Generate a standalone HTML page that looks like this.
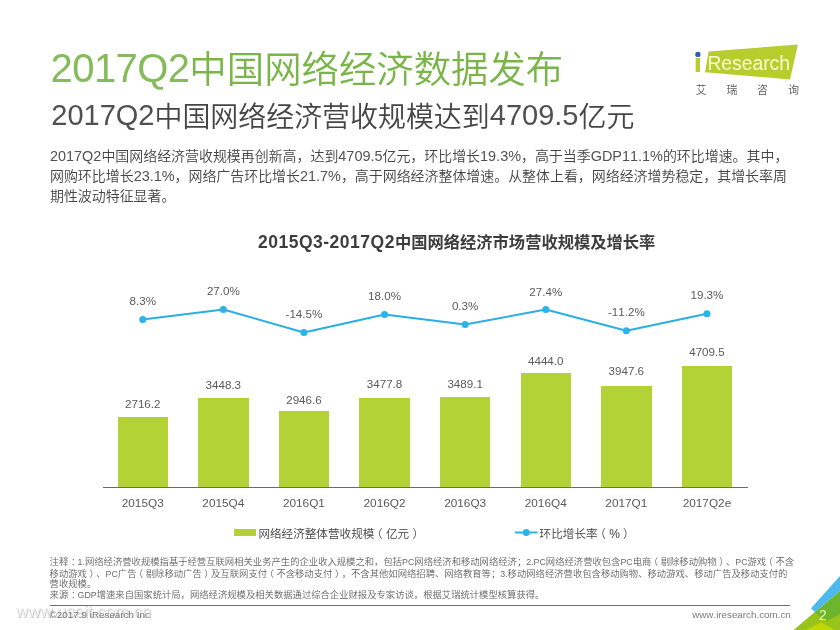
<!DOCTYPE html>
<html lang="zh-CN">
<head>
<meta charset="utf-8">
<title>2017Q2中国网络经济数据发布</title>
<style>
html,body{margin:0;padding:0;background:#fff;}
body{width:840px;height:630px;position:relative;overflow:hidden;
  font-family:"Liberation Sans","Noto Sans CJK SC",sans-serif;color:#404040;
  text-spacing-trim:space-all;font-kerning:none;
  -webkit-font-smoothing:antialiased;will-change:transform;}
.abs{position:absolute;white-space:nowrap;}
.l{font-size:1.04em;line-height:0;}
.po{position:relative;left:-0.28em;}
.pc{position:relative;left:0.28em;}
.co{position:relative;left:0.3em;}
#title{left:50.6px;top:43px;font-size:37.4px;line-height:54px;color:#79b548;font-weight:350;}
#title .l{font-size:40px;letter-spacing:-0.6px;position:relative;top:-1.1px;color:#85bb58;}
#subtitle{left:51.3px;top:97.5px;font-size:27.95px;line-height:40px;color:#454545;font-weight:350;}
#subtitle .l{font-size:29px;position:relative;top:-1.5px;color:#505050;}
.bd{left:50px;font-size:13.95px;line-height:20px;color:#444;font-weight:350;}
.bd .l{font-size:14.45px;color:#525252;}
#ctitle{left:258px;top:231px;font-size:16.3px;line-height:22px;font-weight:bold;color:#3d3d3d;}
#ctitle .l{font-size:17.5px;letter-spacing:0.5px;}
.bar{position:absolute;background:#b2d235;width:50.4px;}
.vl{position:absolute;width:80px;text-align:center;font-size:11.6px;line-height:14px;height:14px;color:#5a5a5a;white-space:nowrap;}
.xl{font-size:11.8px;}
#axis{position:absolute;left:102.5px;top:487px;width:645px;height:1px;background:#6a6a6a;}
.lg{font-size:11.6px;line-height:16px;color:#404040;font-weight:350;}
.lg .l{font-size:12px;}
.note{left:49.6px;font-size:9.33px;line-height:12px;color:#636363;font-weight:350;}
.note .l{font-size:8.8px;color:#6a6a6a;}
#fline{position:absolute;left:50px;top:605px;width:740px;height:1px;background:#707070;}
#wm{left:16px;top:600.5px;font-size:16.8px;line-height:22px;color:#efefef;letter-spacing:0;text-shadow:0.8px 0.8px 0.5px #c2c2c2,-0.7px -0.7px 0 #fff;}
#copy{left:49.6px;top:609px;font-size:9.85px;line-height:12px;color:#757575;}
#url{left:692.2px;top:608px;font-size:9.8px;line-height:14px;color:#7a7a7a;}
#pn{left:812.8px;top:607.2px;width:20px;text-align:center;font-size:14px;line-height:16px;color:#eef5b0;}
</style>
</head>
<body>
<div id="title" class="abs"><span class="l">2017Q2</span>中国网络经济数据发布</div>
<div id="subtitle" class="abs"><span class="l">2017Q2</span>中国网络经济营收规模达到<span class="l">4709.5</span>亿元</div>
<div class="abs bd" style="top:145.7px"><span class="l">2017Q2</span>中国网络经济营收规模再创新高，达到<span class="l">4709.5</span>亿元，环比增长<span class="l">19.3%</span>，高于当季<span class="l">GDP11.1%</span>的环比增速。其中，</div>
<div class="abs bd" style="top:165.7px">网购环比增长<span class="l">23.1%</span>，网络广告环比增长<span class="l">21.7%</span>，高于网络经济整体增速。从整体上看，网络经济增势稳定，其增长率周</div>
<div class="abs bd" style="top:185.9px">期性波动特征显著。</div>

<!-- logo -->
<svg class="abs" style="left:690px;top:40px" width="120" height="70" viewBox="690 40 120 70">
  <polygon points="708.6,51.6 797.9,44.4 790,79.4 705,72.3" fill="#b5cd2d"/>
  <text x="693.5" y="71.7" font-family="'Liberation Sans',sans-serif" font-size="25" font-weight="bold" fill="#b5cd2d" textLength="8.7" lengthAdjust="spacingAndGlyphs">i</text>
  <circle cx="697.9" cy="54.4" r="2.6" fill="#2f5f9e"/>
  <text x="707.4" y="69.8" font-family="'Liberation Sans',sans-serif" font-size="20" fill="#f9fcd0" textLength="82.6" lengthAdjust="spacingAndGlyphs">Research</text>
  <g font-family="'Noto Sans CJK SC',sans-serif" font-size="10.8" fill="#5c5c5c" font-weight="350">
   <text x="695.8" y="93.6">艾</text><text x="726.4" y="93.6">瑞</text><text x="757.1" y="93.6">咨</text><text x="788.2" y="93.6">询</text>
  </g>
</svg>

<div id="ctitle" class="abs"><span class="l">2015Q3-2017Q2</span>中国网络经济市场营收规模及增长率</div>

<div class="bar" style="left:117.55px;top:417.00px;height:70.00px"></div>
<div class="bar" style="left:198.15px;top:398.25px;height:88.75px"></div>
<div class="bar" style="left:278.75px;top:411.00px;height:76.00px"></div>
<div class="bar" style="left:359.35px;top:397.50px;height:89.50px"></div>
<div class="bar" style="left:439.95px;top:397.00px;height:90.00px"></div>
<div class="bar" style="left:520.55px;top:372.50px;height:114.50px"></div>
<div class="bar" style="left:601.15px;top:385.50px;height:101.50px"></div>
<div class="bar" style="left:681.75px;top:365.75px;height:121.25px"></div>
<div class="vl" style="left:102.75px;top:397.35px">2716.2</div>
<div class="vl" style="left:183.35px;top:378.35px">3448.3</div>
<div class="vl" style="left:263.95px;top:392.60px">2946.6</div>
<div class="vl" style="left:344.55px;top:377.10px">3477.8</div>
<div class="vl" style="left:425.15px;top:376.60px">3489.1</div>
<div class="vl" style="left:505.75px;top:354.10px">4444.0</div>
<div class="vl" style="left:586.35px;top:364.10px">3947.6</div>
<div class="vl" style="left:666.95px;top:345.35px">4709.5</div>
<div class="vl xl" style="left:102.75px;top:495.70px">2015Q3</div>
<div class="vl xl" style="left:183.35px;top:495.70px">2015Q4</div>
<div class="vl xl" style="left:263.95px;top:495.70px">2016Q1</div>
<div class="vl xl" style="left:344.55px;top:495.70px">2016Q2</div>
<div class="vl xl" style="left:425.15px;top:495.70px">2016Q3</div>
<div class="vl xl" style="left:505.75px;top:495.70px">2016Q4</div>
<div class="vl xl" style="left:586.35px;top:495.70px">2017Q1</div>
<div class="vl xl" style="left:666.95px;top:495.70px">2017Q2e</div>
<div class="vl" style="left:102.75px;top:294.10px">8.3%</div>
<div class="vl" style="left:183.35px;top:284.10px">27.0%</div>
<div class="vl" style="left:263.95px;top:307.10px">-14.5%</div>
<div class="vl" style="left:344.55px;top:289.10px">18.0%</div>
<div class="vl" style="left:425.15px;top:299.10px">0.3%</div>
<div class="vl" style="left:505.75px;top:284.60px">27.4%</div>
<div class="vl" style="left:586.35px;top:305.35px">-11.2%</div>
<div class="vl" style="left:666.95px;top:288.35px">19.3%</div>
<svg class="abs" style="left:0;top:280px" width="840" height="80" viewBox="0 280 840 80"><polyline points="142.75,319.50 223.35,309.50 303.95,332.50 384.55,314.50 465.15,324.50 545.75,309.50 626.35,330.75 706.95,313.75" fill="none" stroke="#2baee3" stroke-width="2" stroke-linejoin="round"/><g fill="#28b5ea"><circle cx="142.75" cy="319.50" r="3.5"/><circle cx="223.35" cy="309.50" r="3.5"/><circle cx="303.95" cy="332.50" r="3.5"/><circle cx="384.55" cy="314.50" r="3.5"/><circle cx="465.15" cy="324.50" r="3.5"/><circle cx="545.75" cy="309.50" r="3.5"/><circle cx="626.35" cy="330.75" r="3.5"/><circle cx="706.95" cy="313.75" r="3.5"/></g></svg>
<div id="axis"></div>

<!-- legend -->
<div class="abs" style="left:233.75px;top:529px;width:21.75px;height:6.5px;background:#b2d235"></div>
<div class="abs lg" style="left:258.4px;top:526px;">网络经济整体营收规模<span class="po">（</span>亿元<span class="pc">）</span></div>
<svg class="abs" style="left:510px;top:525px" width="34" height="15" viewBox="510 525 34 15"><line x1="515" y1="532.5" x2="537.5" y2="532.5" stroke="#2ab5e7" stroke-width="2"/><circle cx="526.25" cy="532.5" r="3.5" fill="#2ab5e7"/></svg>
<div class="abs lg" style="left:539.6px;top:526px;">环比增长率<span class="po">（</span><span class="l">%</span><span class="pc">）</span></div>

<div class="abs note" style="top:556.1px;">注释<span class="co">：</span><span class="l">1.</span>网络经济营收规模指基于经营互联网相关业务产生的企业收入规模之和，包括<span class="l">PC</span>网络经济和移动网络经济；<span class="l">2.PC</span>网络经济营收包含<span class="l">PC</span>电商<span class="po">（</span>剔除移动购物<span class="pc">）</span>、<span class="l">PC</span>游戏<span class="po">（</span>不含</div>
<div class="abs note" style="top:568px;">移动游戏<span class="pc">）</span>、<span class="l">PC</span>广告<span class="po">（</span>剔除移动广告<span class="pc">）</span>及互联网支付<span class="po">（</span>不含移动支付<span class="pc">）</span>，不含其他如网络招聘、网络教育等；<span class="l">3.</span>移动网络经济营收包含移动购物、移动游戏、移动广告及移动支付的</div>
<div class="abs note" style="top:577.8px;">营收规模。</div>
<div class="abs note" style="top:589.2px;">来源<span class="co">：</span><span class="l">GDP</span>增速来自国家统计局，网络经济规模及相关数据通过综合企业财报及专家访谈，根据艾瑞统计模型核算获得。</div>

<div id="wm" class="abs">www.useit.com.cn</div>
<div id="fline"></div>
<div id="copy" class="abs">©2017.9 iResearch Inc</div>
<div id="url" class="abs">www.iresearch.com.cn</div>

<!-- corner -->
<svg class="abs" style="left:780px;top:570px" width="60" height="60" viewBox="780 570 60 60">
  <polygon points="840,576 811,608.3 815,612 840,591" fill="#4db9ec"/>
  <polygon points="815,612 840,591 840,630 794,630" fill="#6cb52d"/>
  <polygon points="814.6,612.2 826.5,621 840,614 840,630 794,630" fill="#98c41c"/>
  <polygon points="806,630 821,622.6 835,630" fill="#c2d605"/>
</svg>
<div id="pn" class="abs">2</div>
</body>
</html>
